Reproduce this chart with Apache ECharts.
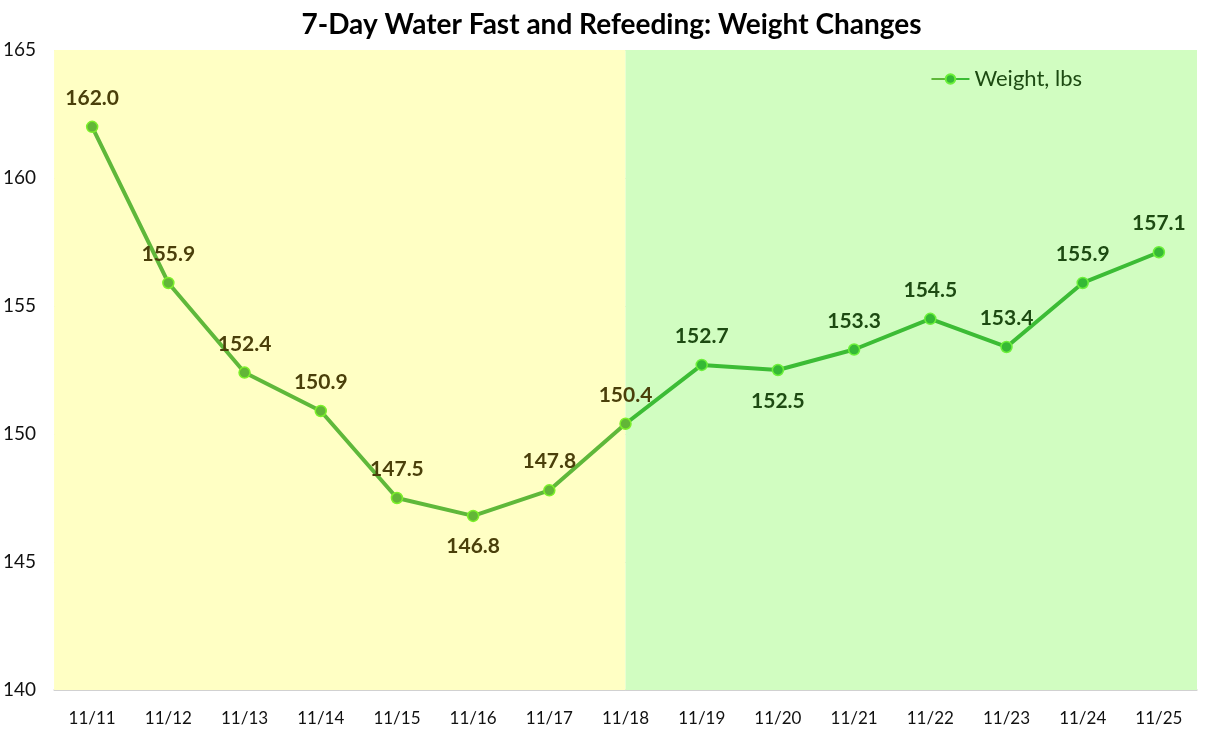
<!DOCTYPE html>
<html><head><meta charset="utf-8">
<script src="https://cdn.jsdelivr.net/npm/echarts@6/dist/echarts.min.js"></script>
<style>html,body{margin:0;padding:0;background:#fff}#c{width:1223px;height:734px}</style>
</head><body><div id="c"></div>
<script>
const categories = ['11/11','11/12','11/13','11/14','11/15','11/16','11/17','11/18','11/19','11/20','11/21','11/22','11/23','11/24','11/25'];
const weights = [162.0,155.9,152.4,150.9,147.5,146.8,147.8,150.4,152.7,152.5,153.3,154.5,153.4,155.9,157.1];
const labelBelow = ['11/16','11/20'];
const fastEndIndex = 7;
const yTicks = {min:140, max:165, interval:5};

const FONT = 'Lato, "Open Sans", sans-serif';
const oliveLabel = '#4a3f0a';
const greenLabel = '#1d4a12';

const data = weights.map((v,i)=>{
  const fast = i <= fastEndIndex;
  return {
    value: v,
    itemStyle: fast ? {color:'#62b637', borderColor:'#7cf02a'} : {color:'#35b935', borderColor:'#6cf03a'},
    label: {
      position: labelBelow.includes(categories[i]) ? 'bottom' : 'top',
      distance: labelBelow.includes(categories[i]) ? 14 : 12,
      color: fast ? oliveLabel : greenLabel
    }
  };
});

const chart = echarts.init(document.getElementById('c'));
chart.setOption({
  animation:false,
  title:{text:'7-Day Water Fast and Refeeding: Weight Changes', left:'center', top:6,
    textStyle:{fontFamily:FONT, fontWeight:'bold', fontSize:28, color:'#000'}},
  legend:{data:['Weight, lbs'], right:136, top:63, itemWidth:38, itemHeight:12, itemGap:4,
    textStyle:{fontFamily:FONT, fontSize:22, color:'#1d4a12'}},
  grid:{left:53, right:26, top:50, bottom:44},
  xAxis:[{
    type:'category', data:categories, boundaryGap:true,
    axisLine:{lineStyle:{color:'#cfcfcf', width:1.5}},
    axisTick:{inside:true, length:6, lineStyle:{color:'#d6d6d6'}},
    axisLabel:{fontFamily:FONT, fontSize:17, color:'#111', margin:20}
  },{
    type:'value', min:-0.5, max:14.5, show:false
  }],
  yAxis:{
    type:'value', min:yTicks.min, max:yTicks.max, interval:yTicks.interval,
    axisLine:{show:false}, axisTick:{show:false},
    axisLabel:{fontFamily:FONT, fontSize:19, color:'#111', margin:18},
    splitLine:{lineStyle:{color:'#d4d4d4', width:1}}
  },
  series:[{
    type:'line', xAxisIndex:1, data:[], silent:true, z:0,
    markArea:{silent:true, data:[
      [{xAxis:-0.5, itemStyle:{color:'#ffffc4'}},{xAxis:fastEndIndex}],
      [{xAxis:fastEndIndex, itemStyle:{color:'#d1fdc1'}},{xAxis:14.5}]
    ]}
  },{
    name:'Weight, lbs', type:'line', data:data, z:5,
    symbol:'circle', symbolSize:11,
    lineStyle:{width:4, color:new echarts.graphic.LinearGradient(0,0,1,0,[
      {offset:0,color:'#5fb83a'},{offset:0.5,color:'#5fb83a'},{offset:0.5,color:'#3cbc35'},{offset:1,color:'#3cbc35'}])},
    itemStyle:{color:'#35b935', borderColor:'#6cf03a', borderWidth:1.5},
    label:{show:true, fontFamily:FONT, fontWeight:'bold', fontSize:21,
      formatter:p=>p.value.toFixed(1)}
  }]
});
</script></body></html>
